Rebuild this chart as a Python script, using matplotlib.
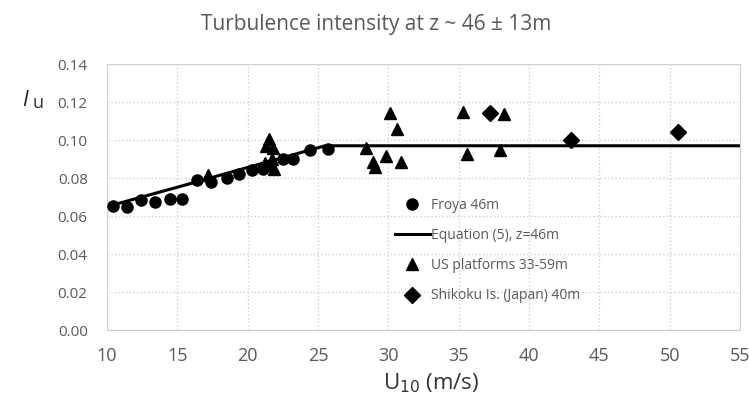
import matplotlib
matplotlib.use("Agg")
from matplotlib import pyplot as plt

plt.rcParams['font.family'] = ['Open Sans', 'DejaVu Sans']

# Froya 46m (circles)
froya_u = [10.4, 11.4, 12.4, 13.4, 14.5, 15.3, 16.4, 17.4, 18.5, 19.4, 20.3, 21.1,
           21.6, 22.5, 23.2, 24.4, 25.7]
froya_i = [0.0653, 0.0650, 0.0684, 0.0675, 0.0690, 0.0690, 0.0790, 0.0780, 0.0800,
           0.0820, 0.0840, 0.0850, 0.0870, 0.0900, 0.0900, 0.0947, 0.0953]

# Equation (5), z=46m
eq_u = [10.0, 15.0, 20.0, 25.5, 55.0]
eq_i = [0.0650, 0.0752, 0.0856, 0.0970, 0.0970]

# US platforms 33-59m (triangles)
us_u = [17.2, 21.3, 21.5, 21.8, 21.2, 21.7, 21.9, 28.4, 28.9, 29.05, 29.8, 30.1,
        30.6, 30.9, 35.3, 35.6, 37.9, 38.2]
us_i = [0.0815, 0.0970, 0.1005, 0.0960, 0.0880, 0.0900, 0.0850, 0.0956, 0.0886,
        0.0860, 0.0916, 0.1144, 0.1056, 0.0886, 0.1149, 0.0926, 0.0947, 0.1137]

# Shikoku Is. (Japan) 40m (diamonds)
shk_u = [37.2, 43.0, 50.6]
shk_i = [0.1144, 0.1000, 0.1044]

grey = '#595959'

fig = plt.figure(figsize=(7.49, 4.03), dpi=100)
ax = fig.add_axes([0.143, 0.181, 0.845, 0.660])

ax.plot(froya_u, froya_i, 'o', color='black', markersize=8, label='Froya 46m', zorder=3)
ax.plot(eq_u, eq_i, '-', color='black', linewidth=2.2, label='Equation (5), z=46m', zorder=2)
ax.plot(us_u, us_i, '^', color='black', markersize=9, label='US platforms 33-59m', zorder=3)
ax.plot(shk_u, shk_i, 'D', color='black', markersize=8, label='Shikoku Is. (Japan) 40m', zorder=3)

ax.set_xlim(10, 55)
ax.set_ylim(0, 0.14)
ax.set_xticks(range(10, 56, 5))
ax.set_yticks([0.0, 0.02, 0.04, 0.06, 0.08, 0.10, 0.12, 0.14])
ax.set_yticklabels(['%.2f' % v for v in ax.get_yticks()])

ax.grid(True, color='#d0d0d0', linestyle=':', linewidth=1.0)
ax.set_axisbelow(True)
for s in ax.spines.values():
    s.set_color('#d0d0d0')
ax.tick_params(axis='both', length=0, colors=grey)
ax.tick_params(axis='x', labelsize=13, pad=12)
ax.tick_params(axis='y', labelsize=11, pad=14)

fig.text(0.502, 0.94, 'Turbulence intensity at z ~ 46 \u00b1 13m', ha='center', va='center',
         fontsize=15, color=grey)
fig.text(0.575, 0.05, r'U$_{10}$ (m/s)', ha='center', va='center', fontsize=16, color='#333333')
fig.text(0.030, 0.75, 'I', ha='left', va='center', fontsize=15, style='italic', color='#1a1a2e')
fig.text(0.043, 0.745, 'u', ha='left', va='center', fontsize=13, color='#333333')

leg = ax.legend(loc='upper left', bbox_to_anchor=(0.435, 0.545), frameon=False,
                fontsize=10, labelcolor=grey, handlelength=2.5, handletextpad=0.1,
                labelspacing=1.1)

fig.savefig('out.png', dpi=100)
